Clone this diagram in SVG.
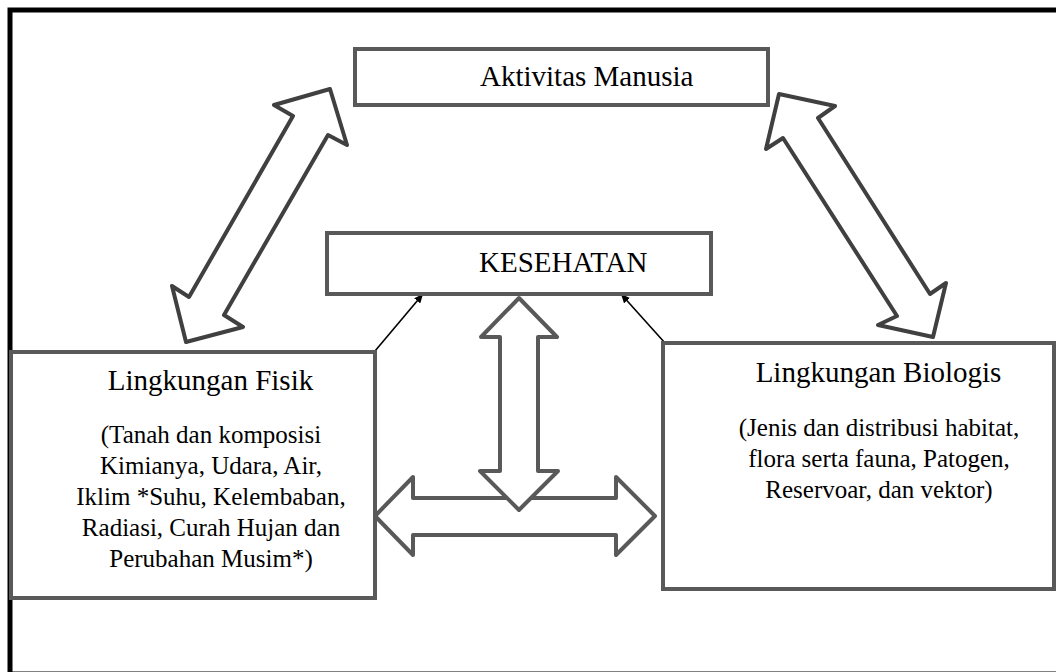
<svg xmlns="http://www.w3.org/2000/svg" width="1056" height="672" viewBox="0 0 1056 672">
  <style>
    .frame { fill: #ffffff; stroke: #000000; stroke-width: 5; }
    .box { fill: #ffffff; stroke: #595959; stroke-width: 4; }
    .big { fill: #ffffff; stroke: #595959; stroke-width: 4; stroke-linejoin: round; }
    .diag { fill: #ffffff; stroke: #404040; stroke-width: 4; stroke-linejoin: round; }
    .link { fill: none; stroke: #000000; stroke-width: 1.6; }
    .title { font-family: "Liberation Serif", "Times New Roman", serif; font-size: 29px; fill: #000000; }
    .body { font-family: "Liberation Serif", "Times New Roman", serif; font-size: 25px; fill: #000000; text-anchor: middle; }
  </style>
  <defs>
    <marker id="tip" viewBox="0 0 10 10" refX="10" refY="5" markerWidth="9" markerHeight="8" markerUnits="userSpaceOnUse" orient="auto" preserveAspectRatio="none">
      <path d="M0,0 L10,5 L0,10 Z" fill="#000000"/>
    </marker>
  </defs>

  <!-- outer frame -->
  <rect class="frame" x="10" y="10" width="1060" height="664"/>

  <!-- block arrows and links -->
  <g id="connectors">
    <!-- Fisik <-> Aktivitas -->
    <polygon class="diag" points="330,89 347,145 328,135 224,315 243,327 186,342 172,286 189,297 293,116 274,105"/>
    <!-- Aktivitas <-> Biologis -->
    <polygon class="diag" points="779,94 835,106 818,118 930,294 946,283 933,337 878,325 897,316 783,138 766,149"/>
    <!-- Fisik <-> Biologis -->
    <polygon class="big" points="375,516 413,477 413,498 616,498 616,477 655,516 616,555 616,535 413,535 413,555"/>
    <!-- KESEHATAN <-> environment -->
    <polygon class="big" points="519,298 557,337 538,337 538,471 558,471 519,510 480,471 500,471 500,337 481,337"/>
    <!-- thin links to KESEHATAN -->
    <line class="link" x1="375" y1="351" x2="423" y2="294" marker-end="url(#tip)"/>
    <line class="link" x1="665" y1="343" x2="621" y2="294" marker-end="url(#tip)"/>
  </g>

  <g id="aktivitas">
    <rect class="box" x="355" y="49" width="413" height="56"/>
    <text class="title" x="480" y="86">Aktivitas Manusia</text>
  </g>

  <g id="kesehatan">
    <rect class="box" x="327" y="233" width="384" height="61"/>
    <text class="title" x="479" y="272">KESEHATAN</text>
  </g>

  <g id="fisik">
    <rect class="box" x="11" y="352" width="364" height="246"/>
    <text class="title" x="210.5" y="390" text-anchor="middle">Lingkungan Fisik</text>
    <text class="body" x="211" y="443">(Tanah dan komposisi</text>
    <text class="body" x="211" y="474">Kimianya, Udara, Air,</text>
    <text class="body" x="211" y="505">Iklim *Suhu, Kelembaban,</text>
    <text class="body" x="211" y="536">Radiasi, Curah Hujan dan</text>
    <text class="body" x="211" y="567">Perubahan Musim*)</text>
  </g>

  <g id="biologis">
    <rect class="box" x="663" y="343" width="391" height="246"/>
    <text class="title" x="878.5" y="382" text-anchor="middle">Lingkungan Biologis</text>
    <text class="body" x="879" y="436">(Jenis dan distribusi habitat,</text>
    <text class="body" x="879" y="467">flora serta fauna, Patogen,</text>
    <text class="body" x="879" y="498">Reservoar, dan vektor)</text>
  </g>
</svg>
